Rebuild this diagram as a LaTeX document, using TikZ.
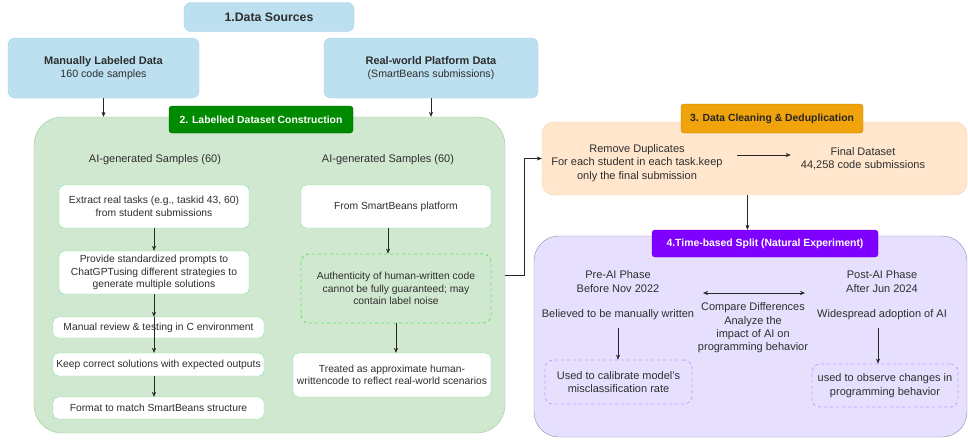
\documentclass[tikz,border=0pt]{standalone}
\usepackage{fontspec}
\setmainfont{Liberation Sans}
\usetikzlibrary{arrows.meta,positioning}
\definecolor{srcblue}{HTML}{BCE0F0}
\definecolor{srcline}{HTML}{A6D0E6}
\definecolor{labfill}{HTML}{D1E8D0}
\definecolor{labline}{HTML}{97C98F}
\definecolor{stepline}{HTML}{74E0A0}
\definecolor{noiseline}{HTML}{5CE65C}
\definecolor{labtag}{HTML}{008A00}
\definecolor{cleanfill}{HTML}{FFE6CC}
\definecolor{cleanline}{HTML}{F7D3AE}
\definecolor{cleantag}{HTML}{F0A30A}
\definecolor{splitfill}{HTML}{E6E0FE}
\definecolor{splitline}{HTML}{8F88AA}
\definecolor{splittag}{HTML}{7F00FF}
\definecolor{splitdash}{HTML}{CC99FF}
\definecolor{txtgray}{HTML}{2E2E2E}

\begin{document}
\begin{tikzpicture}[x=1pt,y=-1pt,font=\fontsize{11}{13.3}\selectfont,
    every node/.style={text=txtgray,align=center},
    srcbox/.style={draw=srcline,fill=srcblue,rounded corners=7pt},
    panel/.style={rounded corners=28pt},
    tagbox/.style={rounded corners=3pt,font=\fontsize{10.4}{12}\selectfont\bfseries},
    stepbox/.style={draw=stepline,fill=white,rounded corners=5pt,font=\fontsize{10.3}{12.5}\selectfont},
    notebox/.style={dashed,line width=0.8pt,rounded corners=8pt},
    arr/.style={-{Stealth[length=5pt,width=4pt]},black!85}]
  \useasboundingbox (0,0) rectangle (968,442);

  % data sources
  \node[srcbox,minimum width=170pt,minimum height=29pt,font=\fontsize{12.3}{14}\selectfont\bfseries] (src) at (269,17) {1.Data Sources};
  \node[srcbox,minimum width=191pt,minimum height=60pt,font=\fontsize{10.6}{13.5}\selectfont] (manual) at (103.5,68)
    {\fontsize{11}{13.5}\selectfont\textbf{Manually Labeled Data}\\160 code samples};
  \node[srcbox,minimum width=214pt,minimum height=60pt,font=\fontsize{10.6}{13.5}\selectfont] (real) at (431,68)
    {\fontsize{11}{13.5}\selectfont\textbf{Real-world Platform Data}\\(SmartBeans submissions)};

  % labelled dataset construction
  \node[panel,draw=labline,fill=labfill,minimum width=471pt,minimum height=316pt] (lab) at (269.5,275) {};
  \node[tagbox,draw=labtag!70!black,fill=labtag,text=white,minimum width=184pt,minimum height=27pt]
    (labtitle) at (261,119.5) {2. Labelled Dataset Construction};
  \draw[arr] (manual.south) -- (manual.south |- lab.north);
  \draw[arr] (real.south) -- (real.south |- lab.north);

  \node (aihead) at (155,160) {AI-generated Samples (60)};
  \node (humhead) at (388,160) {AI-generated Samples (60)};

  \node[stepbox,minimum width=190pt,minimum height=43pt] (extract) at (154,206.5)
    {Extract real tasks (e.g., taskid 43, 60)\\from student submissions};
  \node[stepbox,minimum width=190pt,minimum height=43pt] (prompt) at (154,272.5)
    {Provide standardized prompts to\\ChatGPTusing different strategies to\\generate multiple solutions};
  \node[stepbox,minimum width=211pt,minimum height=21pt] (review) at (158.5,327.5)
    {Manual review \& testing in C environment};
  \node[stepbox,minimum width=211pt,minimum height=23pt] (keep) at (158.5,364.5)
    {Keep correct solutions with expected outputs};
  \node[stepbox,minimum width=211pt,minimum height=22pt] (format) at (158.5,408)
    {Format to match SmartBeans structure};
  \draw[arr] (extract.south) -- (prompt.north);
  \draw[arr] (prompt.south) -- (prompt.south |- review.north);
  \draw[arr] (prompt.south |- review.north) -- (prompt.south |- keep.north);
  \draw[arr] (prompt.south |- keep.south) -- (prompt.south |- format.north);

  \node[stepbox,minimum width=190pt,minimum height=43pt] (smart) at (396,206.5) {From SmartBeans platform};
  \node[notebox,draw=noiseline,minimum width=190pt,minimum height=69pt,font=\fontsize{10.3}{12.5}\selectfont] (noise) at (396,288.5)
    {Authenticity of human-written code\\cannot be fully guaranteed; may\\contain label noise};
  \node[stepbox,minimum width=198pt,minimum height=44pt] (treated) at (392,375)
    {Treated as approximate human-\\writtencode to reflect real-world scenarios};
  \draw[arr] ([xshift=-8pt]smart.south) -- ([xshift=-8pt]smart.south |- noise.north);
  \draw[arr] (noise.south) -- (noise.south |- treated.north);

  % data cleaning
  \node[draw=cleanline,fill=cleanfill,rounded corners=12pt,minimum width=425pt,minimum height=73pt]
    (clean) at (754.5,158.5) {};
  \node[tagbox,draw=cleantag!80!black,fill=cleantag,text=black!85,minimum width=182pt,minimum height=29pt]
    (cleantitle) at (772,118.5) {3. Data Cleaning \& Deduplication};
  \draw[arr] (lab.east) -- ++(19,0) |- (clean.west);
  \node[inner sep=4pt] (dedup) at (637,163)
    {Remove Duplicates\\For each student in each task.keep\\only the final submission};
  \node[inner sep=4pt] (final) at (863,159) {Final Dataset\\44,258 code submissions};
  \draw[arr,shorten <=10pt,shorten >=6pt] ([yshift=4pt]final.west -| dedup.east) -- ([yshift=4pt]final.west);

  % time-based split
  \node[panel,rounded corners=25pt,draw=splitline,fill=splitfill,minimum width=433pt,minimum height=201pt]
    (split) at (750.5,336.5) {};
  \node[tagbox,draw=splittag!85!black,fill=splittag,text=white,minimum width=226pt,minimum height=27pt]
    (splittitle) at (765,243.5) {4.Time-based Split (Natural Experiment)};
  \draw[arr] ([xshift=-7pt]clean.south) -- ([xshift=-7pt]clean.south |- splittitle.north);

  \node (pre) at (618,281.5) {Pre-AI Phase\\Before Nov 2022};
  \node (believed) at (618,315) {Believed to be manually written};
  \node[notebox,draw=splitdash,minimum width=147pt,minimum height=44pt] (calib) at (618.5,382)
    {Used to calibrate model's\\misclassification rate};
  \draw[arr,shorten <=4pt] (believed.south) -- (believed.south |- calib.north);

  \node (post) at (882,281.5) {Post-AI Phase\\After Jun 2024};
  \node (widespread) at (882,315) {Widespread adoption of AI};
  \node[notebox,draw=splitdash,minimum width=146pt,minimum height=43pt] (observe) at (885,385.5)
    {used to observe changes in\\programming behavior};
  \draw[arr,shorten <=4pt] ([xshift=-4pt]widespread.south) -- ([xshift=-4pt]widespread.south |- observe.north);

  \node (compare) at (753,328) {Compare Differences\\Analyze the\\impact of AI on\\programming behavior};
  \coordinate (cmpL) at (703,293);
  \coordinate (cmpR) at (805,293);
  \draw[{Stealth[length=5pt,width=4pt]}-{Stealth[length=5pt,width=4pt]},black!85] (cmpL) -- (cmpR);
\end{tikzpicture}
\end{document}
